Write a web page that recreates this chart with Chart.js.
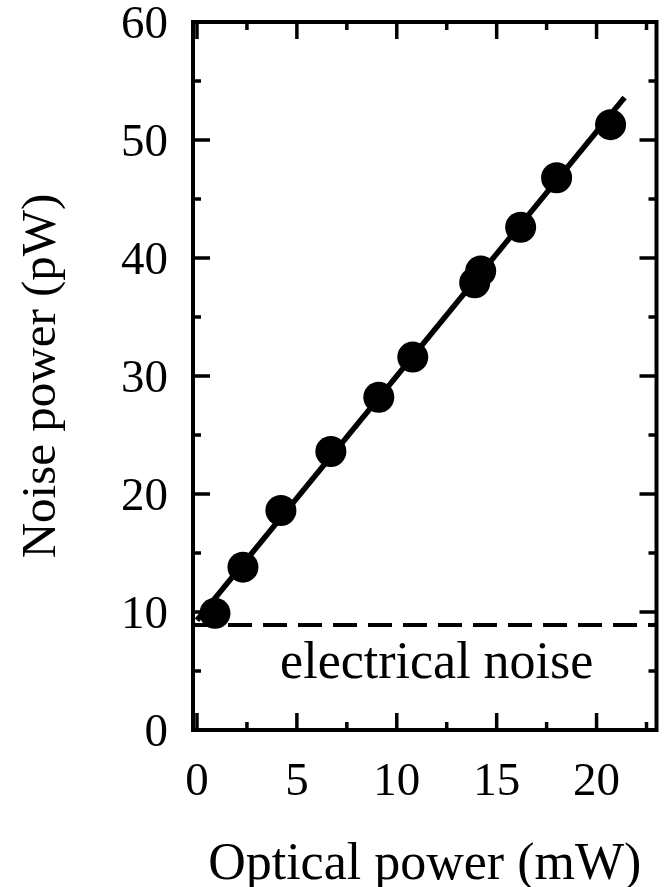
<!DOCTYPE html>
<html>
<head>
<meta charset="utf-8">
<script src="https://cdn.jsdelivr.net/npm/chart.js@4.4.1/dist/chart.umd.min.js"></script>
<style>
  html, body { margin: 0; padding: 0; background: #fff; }
  #wrap { width: 672px; height: 887px; position: relative; }
</style>
</head>
<body>
<div id="wrap"><canvas id="chart-noise"></canvas></div>
<script>
// measured points
const opticalPower = [0.9, 2.3, 4.2, 6.7, 9.1, 10.8, 13.9, 14.2, 16.2, 18.0, 20.7];
const noisePower = [9.9, 13.8, 18.6, 23.6, 28.2, 31.6, 37.9, 38.9, 42.6, 46.8, 51.3];

// linear fit, drawn between its two ends
const fitX = [0, 21.4];
const fitY = [9.3, 53.6];

// electrical noise floor
const floorX = [-0.2, 23];
const floorY = [8.9, 8.9];

const xMajor = [0, 5, 10, 15, 20];
const xMinor = [2.5, 7.5, 12.5, 17.5, 22.5];
const yMajor = [0, 10, 20, 30, 40, 50, 60];
const yMinor = [5, 15, 25, 35, 45, 55];

const SERIF = "'Liberation Serif', 'Times New Roman', serif";

const zip = (xs, ys) => xs.map((x, i) => ({ x, y: ys[i] }));

const framePlugin = {
  id: 'frame',
  afterDraw(chart) {
    const { ctx, chartArea: a, scales: { x, y } } = chart;
    ctx.save();
    ctx.strokeStyle = '#000';
    ctx.lineWidth = 4;
    ctx.lineCap = 'butt';
    ctx.strokeRect(a.left, a.top, a.right - a.left, a.bottom - a.top);

    ctx.lineWidth = 3.5;
    const tickX = (v, len) => {
      const px = x.getPixelForValue(v);
      ctx.beginPath();
      ctx.moveTo(px, a.bottom); ctx.lineTo(px, a.bottom - len);
      ctx.moveTo(px, a.top); ctx.lineTo(px, a.top + len);
      ctx.stroke();
    };
    const tickY = (v, len) => {
      const py = y.getPixelForValue(v);
      ctx.beginPath();
      ctx.moveTo(a.left, py); ctx.lineTo(a.left + len, py);
      ctx.moveTo(a.right, py); ctx.lineTo(a.right - len, py);
      ctx.stroke();
    };
    xMajor.forEach(v => tickX(v, 17));
    xMinor.forEach(v => tickX(v, 8));
    yMajor.forEach(v => tickY(v, 17));
    yMinor.forEach(v => tickY(v, 8));

    // label under the dashed floor
    ctx.fillStyle = '#000';
    ctx.font = `52px ${SERIF}`;
    ctx.textAlign = 'center';
    ctx.textBaseline = 'alphabetic';
    ctx.fillText('electrical noise', x.getPixelForValue(12.0), y.getPixelForValue(4.4));
    ctx.restore();
  }
};

const zeroPad = s => { s.paddingTop = 0; s.paddingBottom = 0; s.paddingLeft = 0; s.paddingRight = 0; };

new Chart(document.getElementById('chart-noise'), {
  type: 'scatter',
  data: {
    datasets: [
      {
        label: 'measured',
        data: zip(opticalPower, noisePower),
        pointRadius: 15.5,
        pointBackgroundColor: '#000',
        pointBorderWidth: 0,
        showLine: false,
      },
      {
        label: 'fit',
        data: zip(fitX, fitY),
        showLine: true,
        borderColor: '#000',
        borderWidth: 5.5,
        pointRadius: 0,
      },
      {
        label: 'electrical noise',
        data: zip(floorX, floorY),
        showLine: true,
        borderColor: '#000',
        borderWidth: 4,
        borderDash: [24, 11],
        pointRadius: 0,
      }
    ]
  },
  options: {
    responsive: true,
    maintainAspectRatio: false,
    animation: false,
    layout: { padding: { top: 22, right: 7, left: 0, bottom: 0 } },
    plugins: { legend: { display: false }, tooltip: { enabled: false } },
    scales: {
      x: {
        type: 'linear',
        min: -0.2,
        max: 23,
        grid: { display: false, drawTicks: false },
        border: { display: false },
        afterBuildTicks: s => { s.ticks = xMajor.map(v => ({ value: v })); },
        afterFit: s => { s.height = 157; zeroPad(s); },
        ticks: {
          color: '#000',
          padding: 24,
          maxRotation: 0,
          autoSkip: false,
          font: { family: SERIF, size: 47 },
        },
        title: {
          display: true,
          text: 'Optical power (mW)',
          color: '#000',
          font: { family: SERIF, size: 52, lineHeight: 1 },
          padding: { top: 0, bottom: -4 },
        }
      },
      y: {
        type: 'linear',
        min: 0,
        max: 60,
        grid: { display: false, drawTicks: false },
        border: { display: false },
        afterBuildTicks: s => { s.ticks = yMajor.map(v => ({ value: v })); },
        afterFit: s => { s.width = 193; zeroPad(s); },
        ticks: {
          color: '#000',
          padding: 25,
          labelOffset: 4,
          autoSkip: false,
          font: { family: SERIF, size: 47 },
        },
        title: {
          display: true,
          text: 'Noise power (pW)',
          color: '#000',
          font: { family: SERIF, size: 49, lineHeight: 1.2 },
          padding: { top: 13, bottom: 0 },
        }
      }
    }
  },
  plugins: [framePlugin]
});
</script>
</body>
</html>
